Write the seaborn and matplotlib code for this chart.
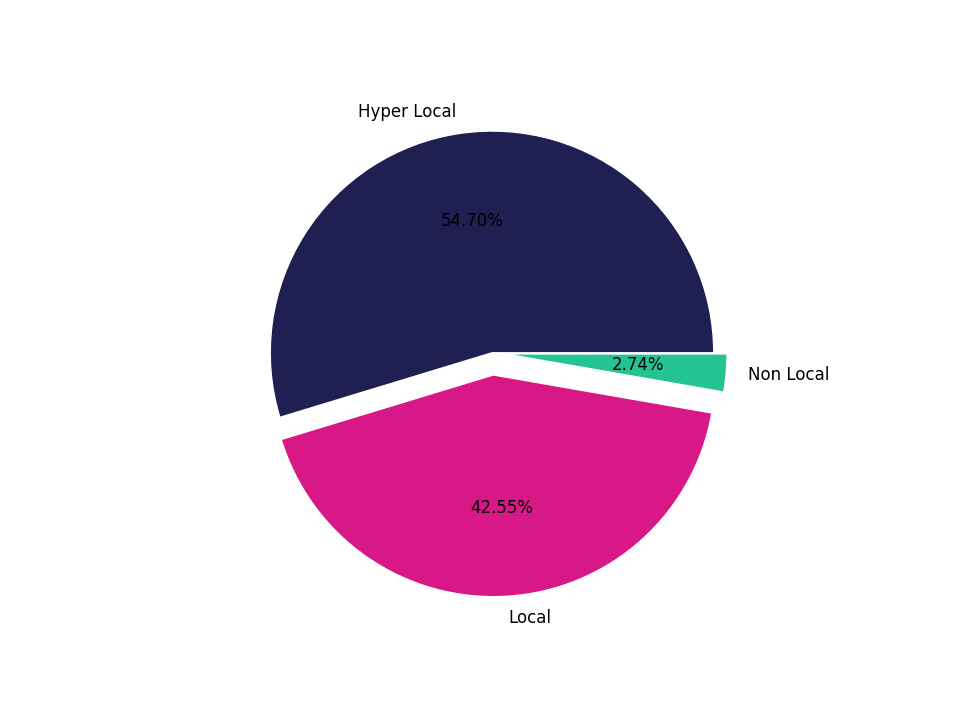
import matplotlib
matplotlib.use("Agg")
import matplotlib.pyplot as plt
import seaborn as sns

labels = ["Hyper Local", "Local", "Non Local"]
values = [54.702, 42.554, 2.744]
colors = ["#1f1f52", "#d81887", "#23c491"]
explode = [0, 0.1, 0.06]

sns.set_theme(style="white")
plt.rcParams['font.family'] = ['DejaVu Sans']
fig, ax = plt.subplots(figsize=(9.6, 7.2), dpi=100)
fig.subplots_adjust(bottom=0.125, top=0.895)
ax.pie(values, labels=labels, colors=colors, explode=explode, autopct="%.2f%%",
       textprops={"fontsize": 12, "color": "black"})
ax.set_aspect("equal")
fig.savefig("out.png", dpi=100)
